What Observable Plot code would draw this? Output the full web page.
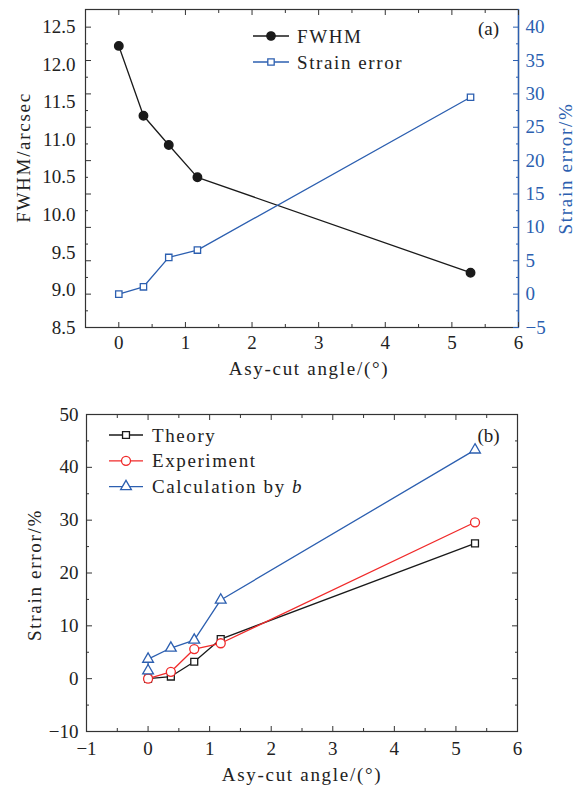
<!DOCTYPE html>
<html><head><meta charset="utf-8">
<script src="https://cdn.jsdelivr.net/npm/d3@7"></script>
<script src="https://cdn.jsdelivr.net/npm/@observablehq/plot@0.6"></script>
<style>
body{margin:0;background:#fff;}
#chart svg{display:block;}
g.lgd text {letter-spacing:1.6px;}
</style></head><body><div id="chart"></div>
<script>
// ---------- Panel (a) data ----------
const angleA = [0, 0.37, 0.75, 1.18, 5.28];
const fwhmA = [12.25, 11.32, 10.93, 10.50, 9.23];
const strainA = [0, 1.1, 5.5, 6.6, 29.5];
const fwhmTicks = [8.5, 9.0, 9.5, 10.0, 10.5, 11.0, 11.5, 12.0, 12.5];
const strainTicksA = [-5, 0, 5, 10, 15, 20, 25, 30, 35, 40];
const xTicksA = [0, 1, 2, 3, 4, 5, 6];

// ---------- Panel (b) data ----------
const angleB = [0, 0.37, 0.75, 1.18, 5.31];
const theoryB = [0, 0.4, 3.2, 7.5, 25.6];
const experimentB = [0, 1.3, 5.6, 6.7, 29.6];
const angleCalcB = [0, 0, 0.37, 0.75, 1.18, 5.31];
const calcB = [1.5, 3.7, 5.8, 7.3, 14.9, 43.3];
const strainTicksB = [-10, 0, 10, 20, 30, 40, 50];
const xTicksB = [-1, 0, 1, 2, 3, 4, 5, 6];

const BLACK = "#1a1a1a", BLUE = "#2c5fb0", RED = "#f02a2a", FRAME = "#333";
const FONT = {fontFamily: "'Liberation Serif', 'Times New Roman', serif", fontSize: "19px", color: "#222", background: "#fff", overflow: "visible"};

// dual-axis mapping: strain -> FWHM coordinate (both axes share the frame)
const f0 = fwhmTicks[0], f1 = fwhmTicks[fwhmTicks.length - 1];
const s0 = strainTicksA[0], s1 = strainTicksA[strainTicksA.length - 1];
const k = (f1 - f0) / (s1 - s0);
const toF = s => f0 + (s - s0) * k;
const toS = f => s0 + (f - f0) / k;
const minusFmt = v => v < 0 ? "\u2212" + (-v) : String(v);

const halves = (a, b) => d3.range(a, b + 1e-9, 0.5).filter(v => Math.abs(v % 1) > 1e-9);

function legendMark(items, x0, x1, xText, y0, rowH) {
  return () => {
    const g = d3.create("svg:g").attr("class", "lgd");
    items.forEach((it, i) => {
      const y = y0 + i * rowH;
      g.append("line").attr("x1", x0).attr("x2", x1).attr("y1", y).attr("y2", y)
        .attr("stroke", it.color).attr("stroke-width", 1.3);
      g.append("path").attr("transform", `translate(${(x0 + x1) / 2},${y})`)
        .attr("d", d3.symbol(it.symbol, Math.PI * it.r * it.r)())
        .attr("fill", it.filled ? it.color : "#fff").attr("stroke", it.color).attr("stroke-width", 1.3);
      const t = g.append("text").attr("x", xText).attr("y", y).attr("dy", "0.35em")
        .attr("text-anchor", "start").attr("fill", "#222").attr("font-size", 19);
      t.append("tspan").text(it.label);
      if (it.italic) t.append("tspan").attr("font-style", "italic").text(it.italic);
    });
    return g.node();
  };
}

const title = (s, opts) => Plot.text([s], {textAnchor: "middle", lineAnchor: "middle", fill: "#222", ...opts});

// ---------- Panel (a) ----------
const dataA = angleA.map((x, i) => ({x, f: fwhmA[i], s: toF(strainA[i])}));
const xDomA = [-0.5, 6];
const plotA = Plot.plot({
  width: 587, height: 385,
  marginLeft: 85, marginRight: 69, marginTop: 9, marginBottom: 58,
  style: FONT,
  x: {domain: xDomA, label: null},
  y: {domain: [f0, 12.735], label: null},
  marks: [
    Plot.frame({stroke: FRAME, strokeWidth: 1.2}),
    Plot.ruleX([xDomA[1]], {stroke: BLUE, strokeWidth: 1.4}),
    Plot.axisX(xTicksA, {anchor: "bottom", tickSize: -5, text: null, label: null, color: FRAME}),
    Plot.axisX(halves(-0.5, 6), {anchor: "bottom", tickSize: -3, text: null, label: null, color: FRAME}),
    Plot.axisX(xTicksA, {anchor: "top", tickSize: -5, text: null, label: null, color: FRAME}),
    Plot.axisX(halves(-0.5, 6), {anchor: "top", tickSize: -3, text: null, label: null, color: FRAME}),
    Plot.axisX(xTicksA, {anchor: "bottom", tickSize: 0, tickPadding: 8, label: null, color: "#222"}),
    Plot.axisY(strainTicksA.map(toF), {anchor: "left", tickSize: -6, text: null, label: null, color: FRAME}),
    Plot.axisY(d3.range(-2.5, 41, 5).map(toF), {anchor: "left", tickSize: -3, text: null, label: null, color: FRAME}),
    Plot.axisY(fwhmTicks, {anchor: "left", tickSize: 0, tickPadding: 10, label: null, tickFormat: d3.format(".1f"), color: "#222"}),
    Plot.axisY(strainTicksA.map(toF), {anchor: "right", tickSize: -6, text: null, label: null, color: BLUE}),
    Plot.axisY(d3.range(-2.5, 41, 5).map(toF), {anchor: "right", tickSize: -3, text: null, label: null, color: BLUE}),
    Plot.axisY(strainTicksA.map(toF), {anchor: "right", tickSize: 0, tickPadding: 7, label: null, color: BLUE,
      tickFormat: d => minusFmt(Math.round(toS(d)))}),
    Plot.line(dataA, {x: "x", y: "f", stroke: BLACK, strokeWidth: 1.3}),
    Plot.dot(dataA, {x: "x", y: "f", r: 4.2, fill: BLACK, stroke: BLACK}),
    Plot.line(dataA, {x: "x", y: "s", stroke: BLUE, strokeWidth: 1.3}),
    Plot.dot(dataA, {x: "x", y: "s", r: 3.6, symbol: "square", fill: "#fff", stroke: BLUE, strokeWidth: 1.3}),
    title("Asy-cut angle/(°)", {frameAnchor: "bottom", dx: 7, dy: 41}),
    title("FWHM/arcsec", {frameAnchor: "left", dx: -62, dy: -11, rotate: -90}),
    title("Strain error/%", {frameAnchor: "right", dx: 47, dy: 0, rotate: -90, fill: BLUE}),
    legendMark([
      {label: "FWHM", color: BLACK, symbol: d3.symbolCircle, r: 4.2, filled: true},
      {label: "Strain error", color: BLUE, symbol: d3.symbolSquare, r: 3.6, filled: false}
    ], 253, 289, 297, 36, 26),
    Plot.text(["(a)"], {frameAnchor: "top-right", dx: -30, dy: 19, textAnchor: "middle", lineAnchor: "middle", fill: "#222"})
  ]
});

// ---------- Panel (b) ----------
const theoryData = angleB.map((x, i) => ({x, y: theoryB[i]}));
const expData = angleB.map((x, i) => ({x, y: experimentB[i]}));
const calcData = angleCalcB.map((x, i) => ({x, y: calcB[i]}));
const xDomB = [-1, 6];
const plotB = Plot.plot({
  width: 587, height: 400,
  marginLeft: 86, marginRight: 70, marginTop: 29, marginBottom: 54,
  style: FONT,
  x: {domain: xDomB, label: null},
  y: {domain: [-10, 50], label: null},
  marks: [
    Plot.frame({stroke: FRAME, strokeWidth: 1.2}),
    Plot.axisX(xTicksB, {anchor: "bottom", tickSize: -5, text: null, label: null, color: FRAME}),
    Plot.axisX(halves(-1, 6), {anchor: "bottom", tickSize: -3, text: null, label: null, color: FRAME}),
    Plot.axisX(xTicksB, {anchor: "top", tickSize: -5, text: null, label: null, color: FRAME}),
    Plot.axisX(halves(-1, 6), {anchor: "top", tickSize: -3, text: null, label: null, color: FRAME}),
    Plot.axisX(xTicksB, {anchor: "bottom", tickSize: 0, tickPadding: 10, label: null, color: "#222"}),
    Plot.axisY(strainTicksB, {anchor: "left", tickSize: -6, text: null, label: null, color: FRAME}),
    Plot.axisY(d3.range(-5, 50, 10), {anchor: "left", tickSize: -3, text: null, label: null, color: FRAME}),
    Plot.axisY(strainTicksB, {anchor: "right", tickSize: -6, text: null, label: null, color: FRAME}),
    Plot.axisY(d3.range(-5, 50, 10), {anchor: "right", tickSize: -3, text: null, label: null, color: FRAME}),
    Plot.axisY(strainTicksB, {anchor: "left", tickSize: 0, tickPadding: 8, label: null, color: "#222"}),
    Plot.line(theoryData, {x: "x", y: "y", stroke: BLACK, strokeWidth: 1.3}),
    Plot.line(expData, {x: "x", y: "y", stroke: RED, strokeWidth: 1.3}),
    Plot.line(calcData, {x: "x", y: "y", stroke: BLUE, strokeWidth: 1.3}),
    Plot.dot(theoryData, {x: "x", y: "y", r: 3.9, symbol: "square", fill: "#fff", stroke: BLACK, strokeWidth: 1.3}),
    Plot.dot(expData, {x: "x", y: "y", r: 4.5, fill: "#fff", stroke: RED, strokeWidth: 1.3}),
    Plot.dot(calcData, {x: "x", y: "y", r: 4, symbol: "triangle", fill: "#fff", stroke: BLUE, strokeWidth: 1.3}),
    title("Asy-cut angle/(°)", {frameAnchor: "bottom", dx: 0, dy: 43}),
    title("Strain error/%", {frameAnchor: "left", dx: -52, dy: 2, rotate: -90}),
    legendMark([
      {label: "Theory", color: BLACK, symbol: d3.symbolSquare, r: 3.9},
      {label: "Experiment", color: RED, symbol: d3.symbolCircle, r: 4.5},
      {label: "Calculation by ", italic: "b", color: BLUE, symbol: d3.symbolTriangle, r: 4}
    ], 109, 143, 152, 50, 25.8),
    Plot.text(["(b)"], {frameAnchor: "top-right", dx: -29, dy: 21, textAnchor: "middle", lineAnchor: "middle", fill: "#222"})
  ]
});

// widen axis titles a little (Computer Modern is wider than Liberation Serif)
for (const p of [plotA, plotB]) {
  d3.select(p).selectAll('g[aria-label="text"] text')
    .filter(function() { return this.textContent.length > 4; })
    .style("letter-spacing", "1.7px");
}

document.getElementById("chart").append(plotA, plotB);
</script></body></html>
